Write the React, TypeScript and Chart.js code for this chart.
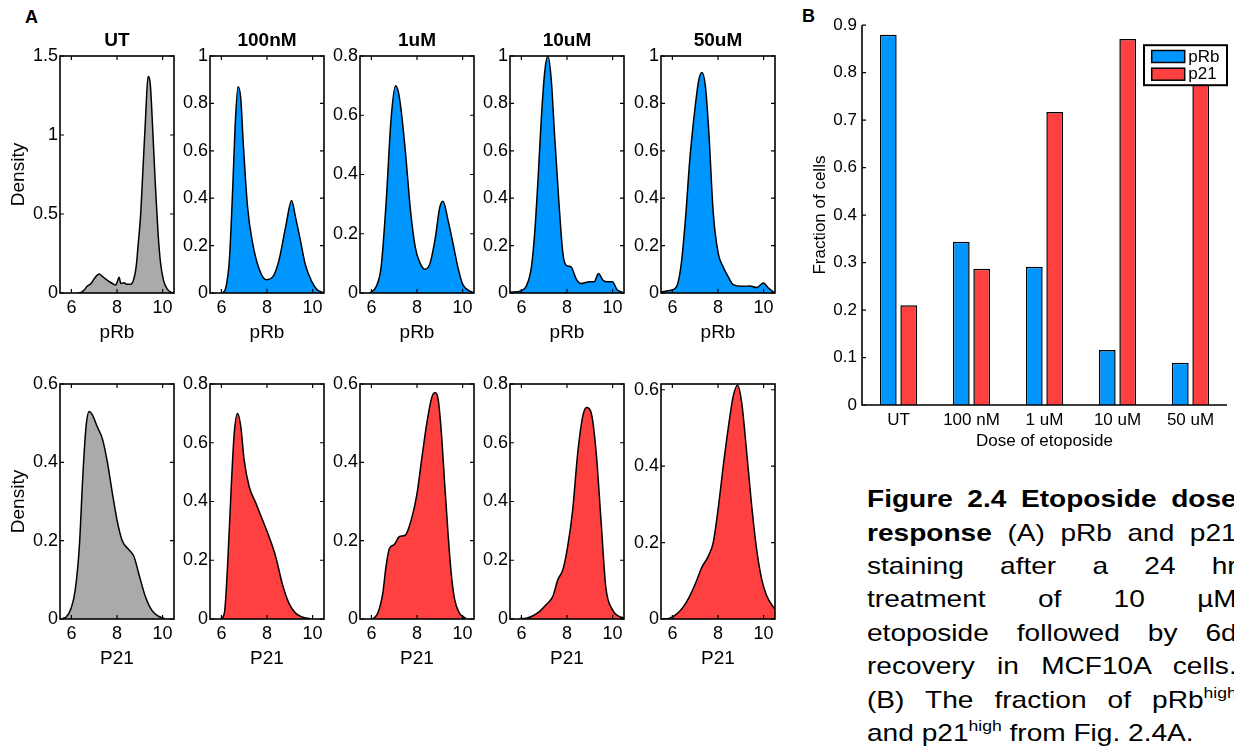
import React, { useEffect, useRef } from "react";
import { Chart, registerables } from "chart.js";

Chart.register(...registerables);

const FONT = "'Liberation Sans', Arial, Helvetica, sans-serif";
Chart.defaults.font.family = FONT;
Chart.defaults.color = "#000";

// ---------- Panel A data ----------
const doseTitles = ["UT", "100nM", "1uM", "10uM", "50uM"];
const xRange = [5.5, 10.5];
const xTickStep = 2;

const pRbYMax = [1.5, 1, 0.8, 1, 1];
const pRbYStep = [0.5, 0.2, 0.2, 0.2, 0.2];
const p21YMax = [0.6, 0.8, 0.6, 0.8, 0.615];
const p21YStep = [0.2, 0.2, 0.2, 0.2, 0.2];

const pRbUT_x = [6.3, 6.45, 6.57, 6.67, 6.86, 7.0, 7.22, 7.36, 7.58, 7.8, 7.94, 8.01, 8.09, 8.17, 8.3, 8.45, 8.6, 8.74, 8.84, 8.93, 9.03, 9.13, 9.25, 9.36, 9.46, 9.56, 9.68, 9.8, 9.91, 10.04, 10.19, 10.38, 10.5];
const pRbUT_y = [0, 0.005, 0.02, 0.04, 0.06, 0.09, 0.12, 0.105, 0.08, 0.06, 0.05, 0.07, 0.1, 0.06, 0.065, 0.055, 0.055, 0.09, 0.165, 0.31, 0.48, 0.76, 1.1, 1.37, 1.32, 1.055, 0.69, 0.38, 0.19, 0.08, 0.028, 0.004, 0.001];

const pRb100_x = [6.05, 6.2, 6.35, 6.5, 6.6, 6.73, 6.85, 6.96, 7.15, 7.37, 7.66, 7.96, 8.25, 8.53, 8.82, 9.08, 9.25, 9.47, 9.68, 9.97, 10.2, 10.45];
const pRb100_y = [0, 0.025, 0.14, 0.45, 0.7, 0.87, 0.82, 0.63, 0.36, 0.21, 0.1, 0.056, 0.068, 0.14, 0.28, 0.39, 0.32, 0.22, 0.12, 0.047, 0.014, 0.002];

const pRb1u_x = [5.93, 6.2, 6.43, 6.65, 6.86, 7.06, 7.18, 7.3, 7.5, 7.7, 7.92, 8.14, 8.35, 8.57, 8.79, 9.0, 9.14, 9.36, 9.58, 9.79, 10.0, 10.3, 10.5];
const pRb1u_y = [0, 0.02, 0.09, 0.31, 0.585, 0.7, 0.68, 0.62, 0.47, 0.29, 0.156, 0.1, 0.08, 0.1, 0.18, 0.29, 0.31, 0.246, 0.167, 0.088, 0.03, 0.007, 0.001];

const pRb10u_x = [5.5, 6.0, 6.22, 6.44, 6.58, 6.73, 6.87, 7.02, 7.16, 7.31, 7.45, 7.64, 7.82, 7.96, 8.18, 8.4, 8.61, 8.97, 9.19, 9.38, 9.58, 9.77, 9.99, 10.2, 10.45];
const pRb10u_y = [0.003, 0.01, 0.03, 0.11, 0.25, 0.48, 0.73, 0.93, 1.0, 0.9, 0.675, 0.39, 0.167, 0.117, 0.11, 0.06, 0.04, 0.047, 0.047, 0.082, 0.054, 0.047, 0.047, 0.014, 0.002];

const pRb50u_x = [5.5, 5.88, 6.17, 6.39, 6.58, 6.76, 6.98, 7.16, 7.3, 7.45, 7.6, 7.79, 8.01, 8.23, 8.45, 8.67, 9.04, 9.4, 9.7, 10.0, 10.2, 10.45];
const pRb50u_y = [0.004, 0.011, 0.025, 0.124, 0.32, 0.56, 0.77, 0.9, 0.93, 0.87, 0.675, 0.34, 0.167, 0.11, 0.068, 0.035, 0.028, 0.03, 0.023, 0.042, 0.022, 0.003];

const p21UT_x = [5.62, 5.77, 5.99, 6.17, 6.35, 6.5, 6.64, 6.78, 6.93, 7.14, 7.36, 7.58, 7.8, 8.01, 8.23, 8.52, 8.74, 8.95, 9.24, 9.53, 9.82, 10.1];
const p21UT_y = [0.002, 0.005, 0.028, 0.075, 0.186, 0.364, 0.49, 0.53, 0.52, 0.49, 0.46, 0.4, 0.32, 0.25, 0.2, 0.177, 0.16, 0.117, 0.058, 0.022, 0.007, 0.001];

const p21100_x = [5.98, 6.13, 6.27, 6.42, 6.56, 6.71, 6.85, 7.0, 7.22, 7.51, 7.8, 8.09, 8.38, 8.67, 8.96, 9.25, 9.54, 9.9];
const p21100_y = [0, 0.02, 0.18, 0.43, 0.63, 0.7, 0.656, 0.54, 0.45, 0.395, 0.338, 0.28, 0.213, 0.12, 0.054, 0.02, 0.007, 0.001];

const p211u_x = [6.06, 6.28, 6.5, 6.64, 6.79, 7.0, 7.22, 7.5, 7.78, 8.0, 8.21, 8.43, 8.64, 8.79, 8.93, 9.07, 9.22, 9.36, 9.5, 9.65, 9.86, 10.15];
const p211u_y = [0, 0.015, 0.066, 0.134, 0.18, 0.19, 0.21, 0.215, 0.26, 0.32, 0.41, 0.5, 0.564, 0.578, 0.56, 0.475, 0.34, 0.22, 0.117, 0.05, 0.015, 0.001];

const p2110u_x = [5.93, 6.22, 6.51, 6.8, 7.09, 7.38, 7.6, 7.82, 8.03, 8.25, 8.47, 8.69, 8.86, 9.05, 9.27, 9.49, 9.7, 9.99, 10.28, 10.5];
const p2110u_y = [0.002, 0.003, 0.011, 0.026, 0.049, 0.077, 0.134, 0.168, 0.247, 0.372, 0.565, 0.69, 0.72, 0.705, 0.576, 0.338, 0.11, 0.032, 0.009, 0.004];

const p2150u_x = [5.59, 5.88, 6.17, 6.47, 6.76, 7.06, 7.28, 7.57, 7.79, 8.01, 8.23, 8.45, 8.67, 8.86, 9.04, 9.26, 9.48, 9.7, 9.92, 10.14, 10.5];
const p2150u_y = [0, 0.002, 0.012, 0.031, 0.06, 0.1, 0.134, 0.164, 0.2, 0.29, 0.4, 0.5, 0.584, 0.612, 0.566, 0.435, 0.295, 0.18, 0.103, 0.06, 0.025];

const pRbCurvesX = [pRbUT_x, pRb100_x, pRb1u_x, pRb10u_x, pRb50u_x];
const pRbCurvesY = [pRbUT_y, pRb100_y, pRb1u_y, pRb10u_y, pRb50u_y];
const p21CurvesX = [p21UT_x, p21100_x, p211u_x, p2110u_x, p2150u_x];
const p21CurvesY = [p21UT_y, p21100_y, p211u_y, p2110u_y, p2150u_y];

// ---------- Panel B data ----------
const doseLabels = ["UT", "100 nM", "1 uM", "10 uM", "50 uM"];
const pRbHighFraction = [0.88, 0.344, 0.291, 0.116, 0.089];
const p21HighFraction = [0.21, 0.287, 0.717, 0.871, 0.8];
const fractionTickLabels = [0, 0.1, 0.2, 0.3, 0.4, 0.6, 0.7, 0.8, 0.9];

const GREY = "rgb(170,170,170)";
const BLUE = "rgb(0,150,255)";
const RED = "rgb(255,64,64)";

// map a value read against the printed tick labels to the evenly spaced axis position
function toAxisPos(v: number): number {
  const L = fractionTickLabels;
  for (let i = 0; i < L.length - 1; i++) {
    if (v <= L[i + 1]) return (i + (v - L[i]) / (L[i + 1] - L[i])) * 0.1;
  }
  return (L.length - 1) * 0.1;
}

const fmt = (v: any) => String(Number(Number(v).toFixed(3)));

// ---------- layout ----------
const PLOT_LEFTS = [60, 210, 360, 510, 661];
const PLOT_W = 114;
const ROWS = [
  { top: 56, height: 237 },
  { top: 384, height: 235 },
];

const boxPlugin = {
  id: "matlabBox",
  afterDraw(chart: any) {
    const { ctx, chartArea: a, scales } = chart;
    ctx.save();
    ctx.strokeStyle = "#000";
    ctx.lineWidth = 1.2;
    const tl = 4;
    ctx.beginPath();
    scales.x.ticks.forEach((t: any) => {
      const px = scales.x.getPixelForValue(t.value);
      ctx.moveTo(px, a.bottom);
      ctx.lineTo(px, a.bottom - tl);
      ctx.moveTo(px, a.top);
      ctx.lineTo(px, a.top + tl);
    });
    scales.y.ticks.forEach((t: any) => {
      const py = scales.y.getPixelForValue(t.value);
      ctx.moveTo(a.left, py);
      ctx.lineTo(a.left + tl, py);
      ctx.moveTo(a.right, py);
      ctx.lineTo(a.right - tl, py);
    });
    ctx.stroke();
    ctx.lineWidth = 1.6;
    ctx.strokeRect(a.left, a.top, a.right - a.left, a.bottom - a.top);
    ctx.restore();
  },
};

type PanelProps = {
  xs: number[];
  ys: number[];
  color: string;
  title?: string;
  ymax: number;
  ystep: number;
  plotLeft: number;
  plotTop: number;
  plotHeight: number;
  yTitle?: string;
  xTitle: string;
};

function DensityPanel(p: PanelProps) {
  const ref = useRef<HTMLCanvasElement>(null);
  const axisW = p.yTitle ? 53 : 40;
  const topSpace = p.title ? 27 : 14;
  const xAxisH = 51;
  const rightPad = 4;
  const width = axisW + PLOT_W + rightPad;
  const height = topSpace + p.plotHeight + xAxisH;

  useEffect(() => {
    const chart = new Chart(ref.current as HTMLCanvasElement, {
      type: "line",
      data: {
        datasets: [
          {
            data: p.xs.map((x, i) => ({ x, y: p.ys[i] })),
            fill: "origin",
            backgroundColor: p.color,
            borderColor: "#000",
            borderWidth: 1.5,
            pointRadius: 0,
            cubicInterpolationMode: "monotone",
          },
        ],
      },
      options: {
        animation: false,
        responsive: false,
        maintainAspectRatio: false,
        events: [],
        layout: { padding: { left: 0, right: rightPad, top: p.title ? 0 : topSpace, bottom: 0 } },
        plugins: {
          legend: { display: false },
          tooltip: { enabled: false },
          title: {
            display: !!p.title,
            text: p.title || "",
            fullSize: false,
            color: "#000",
            font: { family: FONT, size: 19, weight: "bold", lineHeight: 1.2 },
            padding: { top: 0, bottom: topSpace - 22.8 },
          },
        },
        scales: {
          x: {
            type: "linear",
            min: xRange[0],
            max: xRange[1],
            ticks: {
              stepSize: xTickStep,
              includeBounds: false,
              padding: 4,
              maxRotation: 0,
              autoSkip: false,
              color: "#000",
              font: { family: FONT, size: 18 },
              callback: fmt,
            },
            grid: { display: false, drawTicks: false },
            border: { display: false },
            title: {
              display: true,
              text: p.xTitle,
              color: "#000",
              padding: 0,
              font: { family: FONT, size: 19, lineHeight: 1.2 },
            },
            afterFit: (s: any) => {
              s.height = xAxisH;
            },
          },
          y: {
            type: "linear",
            min: 0,
            max: p.ymax,
            ticks: {
              stepSize: p.ystep,
              includeBounds: false,
              padding: 2,
              color: "#000",
              font: { family: FONT, size: 18 },
              callback: fmt,
            },
            grid: { display: false, drawTicks: false },
            border: { display: false },
            title: {
              display: !!p.yTitle,
              text: p.yTitle || "",
              color: "#000",
              padding: 0,
              font: { family: FONT, size: 19, lineHeight: 1.2 },
            },
            afterFit: (s: any) => {
              s.width = axisW;
            },
          },
        },
      },
      plugins: [boxPlugin],
    } as any);
    return () => chart.destroy();
  }, []);

  return (
    <canvas
      ref={ref}
      width={width}
      height={height}
      style={{ position: "absolute", left: p.plotLeft - axisW, top: p.plotTop - topSpace, width, height }}
    />
  );
}

const barPlugin = {
  id: "barAxes",
  afterDraw(chart: any) {
    const { ctx, chartArea: a, scales } = chart;
    ctx.save();
    ctx.strokeStyle = "#000";
    ctx.lineWidth = 1.2;
    ctx.beginPath();
    scales.y.ticks.forEach((t: any) => {
      const py = scales.y.getPixelForValue(t.value);
      ctx.moveTo(a.left, py);
      ctx.lineTo(a.left + 4, py);
    });
    ctx.stroke();
    ctx.lineWidth = 1.6;
    ctx.beginPath();
    ctx.moveTo(a.left, a.top);
    ctx.lineTo(a.left, a.bottom);
    ctx.lineTo(a.right, a.bottom);
    ctx.stroke();

    // legend box (top-right, inside the axes)
    const bw = 83;
    const bh = 40;
    const bx = a.right - bw;
    const by = a.top + 20;
    ctx.fillStyle = "#fff";
    ctx.fillRect(bx, by, bw, bh);
    ctx.lineWidth = 2;
    ctx.strokeRect(bx, by, bw, bh);
    const ds = chart.data.datasets;
    ctx.font = `17px ${FONT}`;
    ctx.textBaseline = "middle";
    ctx.textAlign = "left";
    ds.forEach((d: any, i: number) => {
      const sy = by + 5.3 + i * 17.7;
      ctx.fillStyle = d.backgroundColor;
      ctx.fillRect(bx + 7.7, sy, 33, 12);
      ctx.lineWidth = 1.5;
      ctx.strokeStyle = "#000";
      ctx.strokeRect(bx + 7.7, sy, 33, 12);
      ctx.fillStyle = "#000";
      ctx.fillText(d.label, bx + 44.3, sy + 6.5);
    });
    ctx.restore();
  },
};

function FractionBars() {
  const ref = useRef<HTMLCanvasElement>(null);
  const left = 810;
  const top = 10;
  const axisW = 52;
  const padTop = 12;
  const xAxisH = 47;
  const plotW = 365;
  const plotH = 383;
  const rightPad = 4;
  const width = axisW + plotW + rightPad;
  const height = padTop + plotH + xAxisH;

  useEffect(() => {
    const chart = new Chart(ref.current as HTMLCanvasElement, {
      type: "bar",
      data: {
        labels: doseLabels,
        datasets: [
          {
            label: "pRb",
            data: pRbHighFraction.map(toAxisPos),
            backgroundColor: BLUE,
            borderColor: "#000",
            borderWidth: 1.5,
            categoryPercentage: 0.56,
            barPercentage: 0.82,
          },
          {
            label: "p21",
            data: p21HighFraction.map(toAxisPos),
            backgroundColor: RED,
            borderColor: "#000",
            borderWidth: 1.5,
            categoryPercentage: 0.56,
            barPercentage: 0.82,
          },
        ],
      },
      options: {
        animation: false,
        responsive: false,
        maintainAspectRatio: false,
        events: [],
        layout: { padding: { left: 0, right: rightPad, top: padTop, bottom: 0 } },
        plugins: { legend: { display: false }, tooltip: { enabled: false } },
        scales: {
          x: {
            ticks: { padding: 5.5, color: "#000", font: { family: FONT, size: 17 }, maxRotation: 0, autoSkip: false },
            grid: { display: false, drawTicks: false },
            border: { display: false },
            title: {
              display: true,
              text: "Dose of etoposide",
              color: "#000",
              padding: 0,
              font: { family: FONT, size: 17, lineHeight: 1.2 },
            },
            afterFit: (s: any) => {
              s.height = xAxisH;
            },
          },
          y: {
            min: 0,
            max: (fractionTickLabels.length - 1) * 0.1,
            ticks: {
              stepSize: 0.1,
              includeBounds: false,
              padding: 5,
              color: "#000",
              font: { family: FONT, size: 17 },
              callback: (v: any) => String(fractionTickLabels[Math.round(Number(v) / 0.1)]),
            },
            grid: { display: false, drawTicks: false },
            border: { display: false },
            title: {
              display: true,
              text: "Fraction of cells",
              color: "#000",
              padding: 0,
              font: { family: FONT, size: 17, lineHeight: 1.2 },
            },
            afterFit: (s: any) => {
              s.width = axisW;
            },
          },
        },
      },
      plugins: [barPlugin],
    } as any);
    return () => chart.destroy();
  }, []);

  return (
    <canvas ref={ref} width={width} height={height} style={{ position: "absolute", left, top, width, height }} />
  );
}

const captionLines: React.ReactNode[] = [
  <>
    <b>Figure 2.4 Etoposide dose</b>
  </>,
  <>
    <b>response</b> (A) pRb and p21
  </>,
  <>staining after a 24 hr</>,
  <>treatment of 10 µM</>,
  <>etoposide followed by 6d</>,
  <>recovery in MCF10A cells.</>,
  <>
    (B) The fraction of pRb<span style={{ fontSize: 15, position: "relative", top: -10 }}>high</span>
  </>,
  <>
    and p21<span style={{ fontSize: 15, position: "relative", top: -10 }}>high</span> from Fig. 2.4A.
  </>,
];

export default function App() {
  return (
    <div
      style={{
        position: "fixed",
        left: 0,
        top: 0,
        width: 1234,
        height: 753,
        overflow: "hidden",
        background: "#fff",
        fontFamily: FONT,
      }}
    >
      <div style={{ position: "absolute", left: 25, top: 8, font: `bold 18px ${FONT}`, lineHeight: "18px" }}>A</div>
      <div style={{ position: "absolute", left: 802, top: 6.5, font: `bold 18px ${FONT}`, lineHeight: "18px" }}>B</div>

      {doseTitles.map((t, i) => (
        <DensityPanel
          key={"pRb" + i}
          xs={pRbCurvesX[i]}
          ys={pRbCurvesY[i]}
          color={i === 0 ? GREY : BLUE}
          title={t}
          ymax={pRbYMax[i]}
          ystep={pRbYStep[i]}
          plotLeft={PLOT_LEFTS[i]}
          plotTop={ROWS[0].top}
          plotHeight={ROWS[0].height}
          yTitle={i === 0 ? "Density" : undefined}
          xTitle="pRb"
        />
      ))}
      {doseTitles.map((t, i) => (
        <DensityPanel
          key={"p21" + i}
          xs={p21CurvesX[i]}
          ys={p21CurvesY[i]}
          color={i === 0 ? GREY : RED}
          ymax={p21YMax[i]}
          ystep={p21YStep[i]}
          plotLeft={PLOT_LEFTS[i]}
          plotTop={ROWS[1].top}
          plotHeight={ROWS[1].height}
          yTitle={i === 0 ? "Density" : undefined}
          xTitle="P21"
        />
      ))}

      <FractionBars />

      <div
        style={{
          position: "absolute",
          left: 867,
          top: 482.3,
          width: 316,
          transform: "scaleX(1.17)",
          transformOrigin: "0 0",
          fontSize: 24,
          lineHeight: "33.4px",
          color: "#000",
          fontFamily: FONT,
        }}
      >
        {captionLines.map((line, i) => {
          const last = i === captionLines.length - 1;
          return (
            <div
              key={i}
              style={{
                textAlign: last ? "left" : "justify",
                textAlignLast: last ? "left" : "justify",
                height: 33.4,
              } as any}
            >
              {line}
            </div>
          );
        })}
      </div>
    </div>
  );
}
